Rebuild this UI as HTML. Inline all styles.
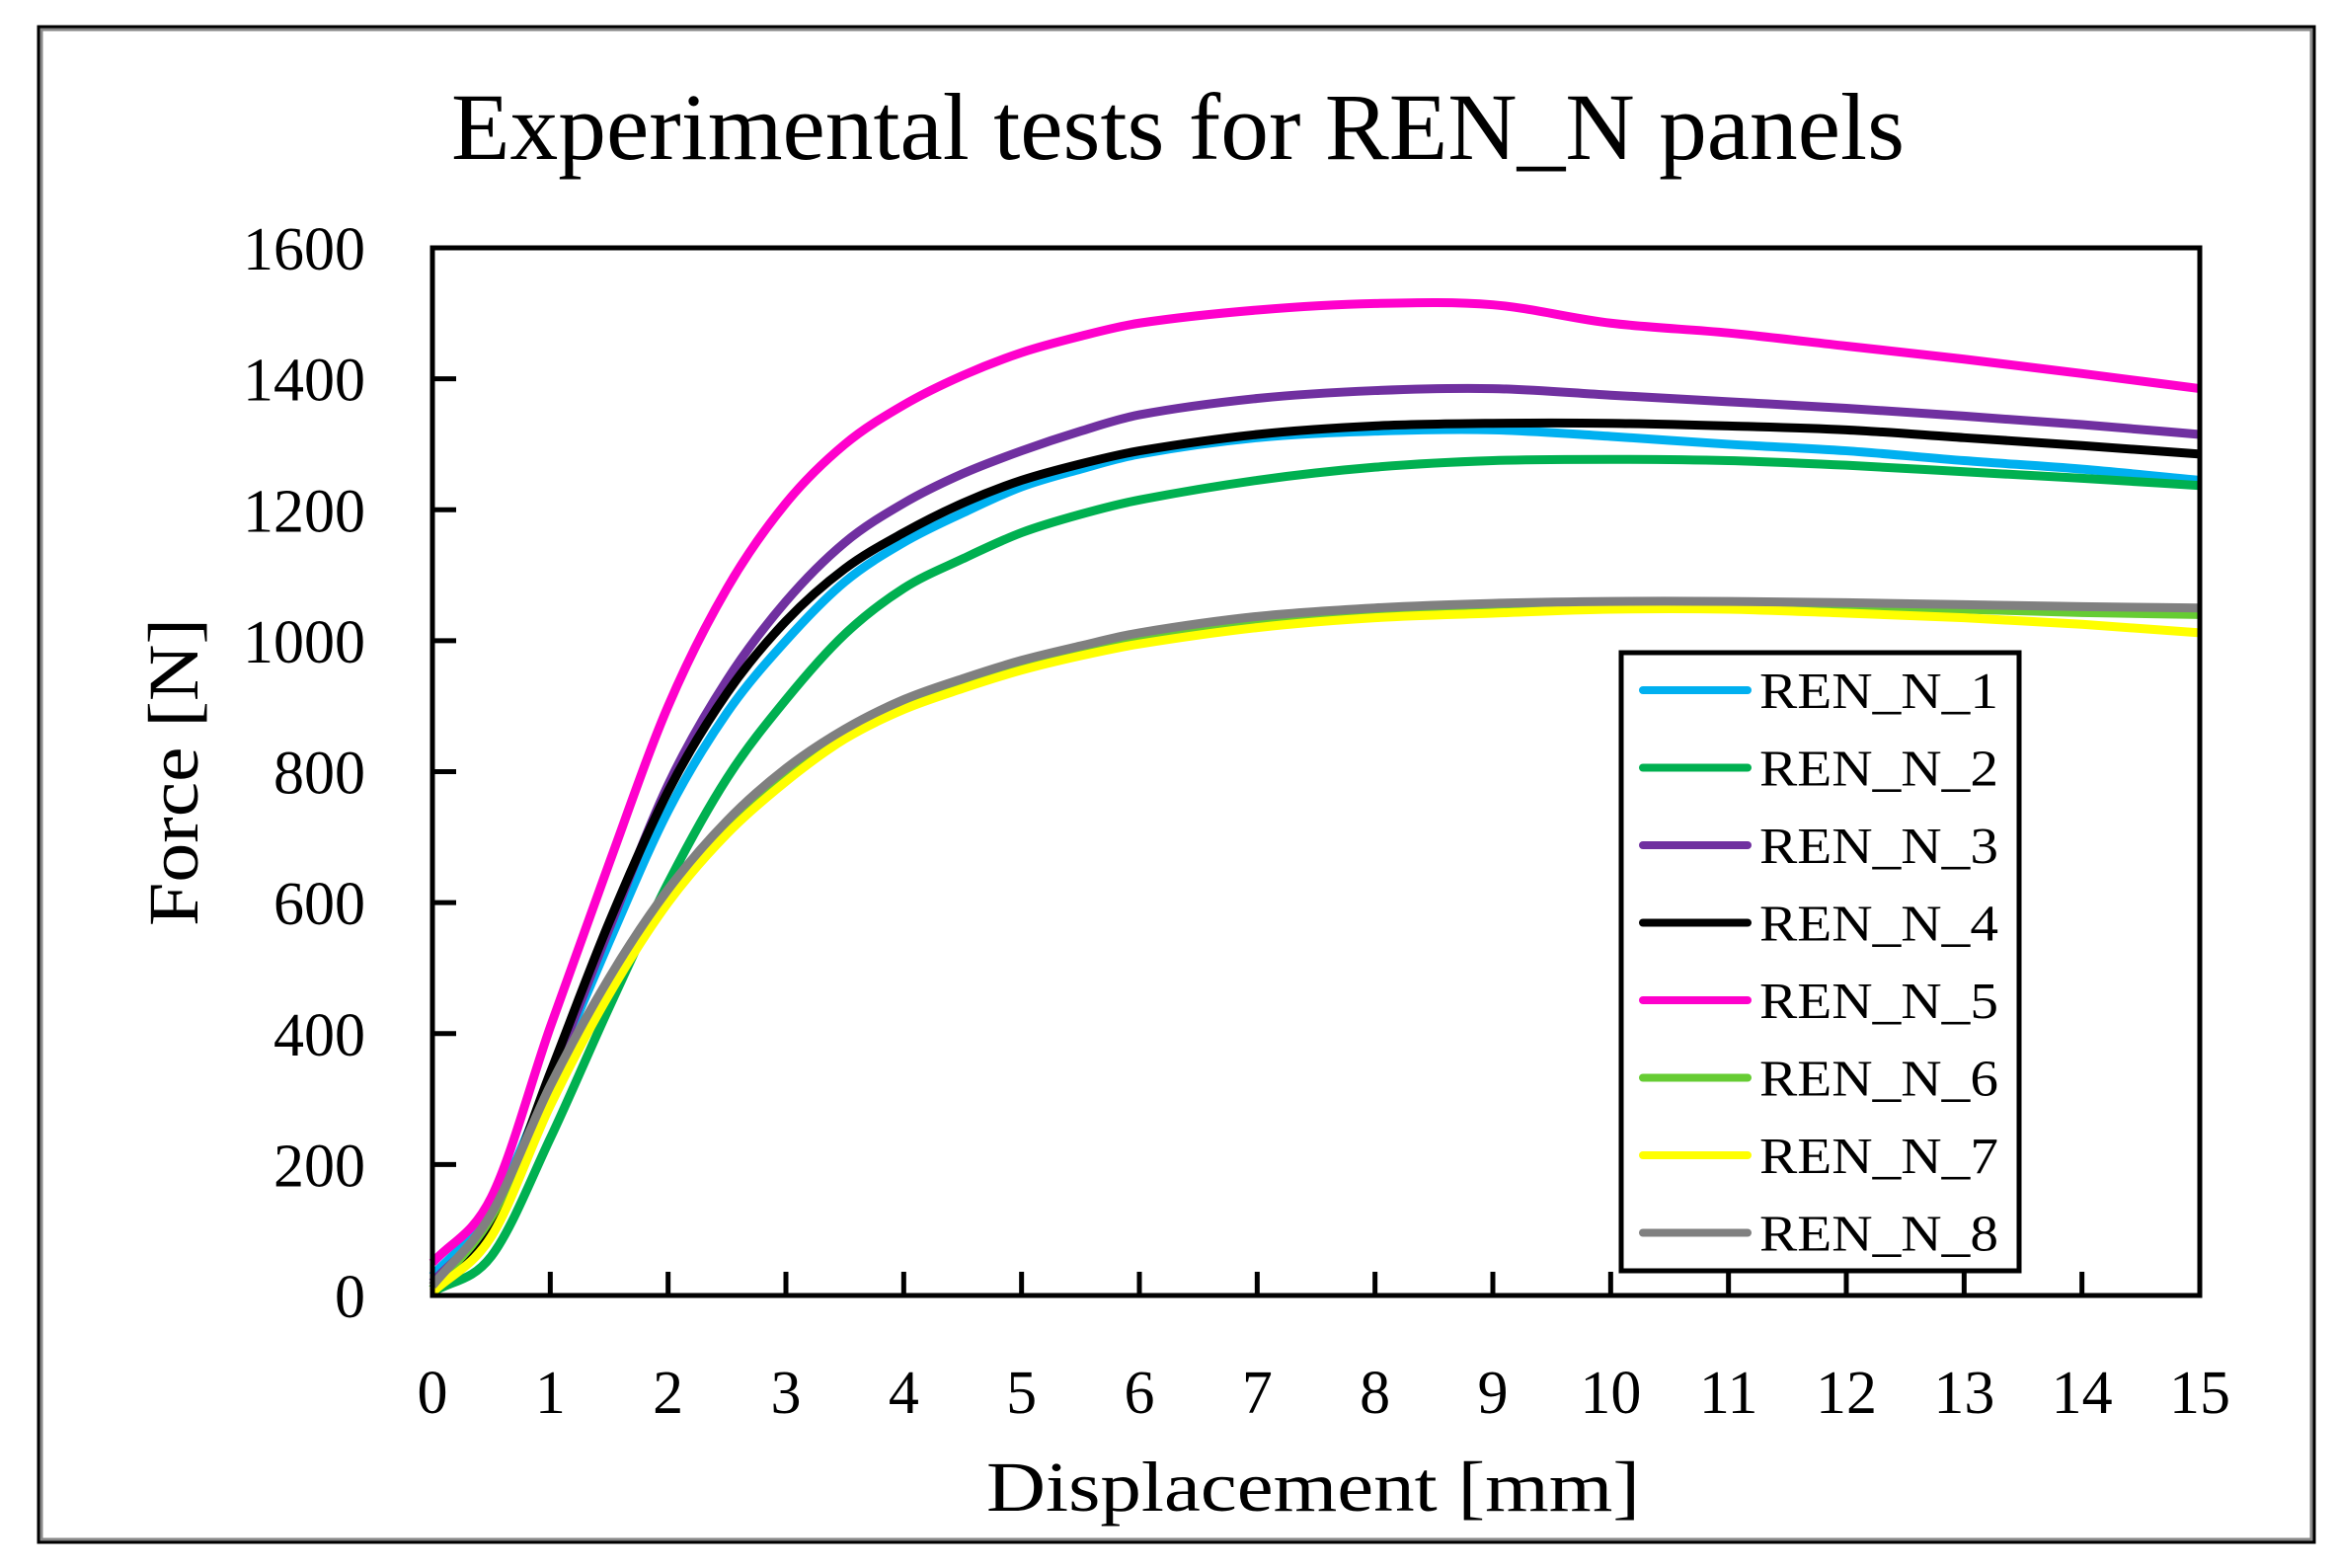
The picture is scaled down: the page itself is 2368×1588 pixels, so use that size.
<!DOCTYPE html>
<html><head><meta charset="utf-8"><style>
html,body{margin:0;padding:0;background:#fff;}
svg{display:block;font-family:"Liberation Serif",serif;}
</style></head><body>
<svg id="chart" width="2368" height="1588" viewBox="0 0 2368 1588">
<rect x="0" y="0" width="2368" height="1588" fill="#fff"/>
<rect x="39" y="27" width="2305" height="1535" fill="none" stroke="#000" stroke-width="3"/>
<rect x="42" y="30" width="2299" height="1529" fill="none" stroke="#888" stroke-width="3"/>
<text x="1193" y="161" font-size="96" text-anchor="middle" textLength="1472" lengthAdjust="spacingAndGlyphs">Experimental tests for REN_N panels</text>
<g id="series"></g>
<rect x="438" y="251" width="1790" height="1061" fill="none" stroke="#000" stroke-width="5"/>
<g id="ticks"></g>
<text x="1330" y="1530" font-size="72" text-anchor="middle" textLength="662" lengthAdjust="spacingAndGlyphs">Displacement [mm]</text>
<text transform="translate(200,782) rotate(-90)" font-size="72" text-anchor="middle" textLength="312" lengthAdjust="spacingAndGlyphs">Force [N]</text>
<g>
<rect x="1642" y="661" width="403" height="626" fill="#fff" stroke="#000" stroke-width="5"/>
<g id="legend-items"></g>
</g>
</svg>
<script>
const xVals = [0,0.5,1,1.5,2,2.5,3,3.5,4,4.5,5,5.5,6,7,8,9,10,11,12,13,14,15];
const seriesNames = ["REN_N_1","REN_N_2","REN_N_3","REN_N_4","REN_N_5","REN_N_6","REN_N_7","REN_N_8"];
const seriesColors = ["#00b0f0","#00b050","#7030a0","#000000","#ff00cc","#66cc33","#ffff00","#808080"];
const s1 = [30,130,330,540,740,890,1000,1090,1150,1195,1235,1262,1285,1310,1320,1322,1312,1300,1290,1275,1262,1245];
const s2 = [5,60,240,440,630,790,910,1010,1080,1125,1165,1193,1215,1245,1265,1275,1277,1275,1268,1258,1248,1237];
const s3 = [20,120,330,560,780,940,1060,1150,1210,1255,1290,1320,1345,1370,1382,1385,1375,1365,1355,1343,1330,1315];
const s4 = [10,110,340,570,770,920,1030,1110,1165,1210,1245,1270,1290,1315,1328,1332,1332,1328,1322,1310,1298,1285];
const s5 = [50,150,410,660,900,1080,1210,1300,1360,1405,1440,1465,1485,1505,1515,1513,1485,1470,1450,1430,1408,1385];
const s6 = [10,120,320,480,620,720,800,860,905,937,965,987,1005,1030,1045,1052,1055,1055,1052,1048,1043,1040];
const s7 = [5,90,290,460,600,705,785,850,895,927,955,977,995,1020,1035,1042,1048,1048,1042,1035,1025,1012];
const s8 = [15,125,320,485,620,725,805,865,910,942,970,992,1012,1037,1050,1057,1060,1060,1058,1055,1052,1050];
const seriesData = [s1,s2,s3,s4,s5,s6,s7,s8];
const xTicks = [0,1,2,3,4,5,6,7,8,9,10,11,12,13,14,15];
const yTicks = [0,200,400,600,800,1000,1200,1400,1600];

const NS="http://www.w3.org/2000/svg";
const L=438,R=2228,T=251,B=1312;
function sx(v){return L+(v-0)/(15-0)*(R-L);}
function sy(v){return B-(v-0)/(1600-0)*(B-T);}
function mk(tag,attrs,parent){const e=document.createElementNS(NS,tag);for(const k in attrs)e.setAttribute(k,attrs[k]);parent.appendChild(e);return e;}
function smoothPath(pts){
  const n=pts.length,m=[];
  for(let i=0;i<n;i++){
    const a=pts[Math.max(0,i-1)],b=pts[Math.min(n-1,i+1)];
    m.push((b[1]-a[1])/(b[0]-a[0]));
  }
  let d="M"+pts[0][0]+","+pts[0][1];
  for(let i=0;i<n-1;i++){
    const p1=pts[i],p2=pts[i+1],dx=(p2[0]-p1[0])/3;
    d+=" C"+(p1[0]+dx)+","+(p1[1]+m[i]*dx)+" "+(p2[0]-dx)+","+(p2[1]-m[i+1]*dx)+" "+p2[0]+","+p2[1];
  }
  return d;
}
const sg=document.getElementById("series");
seriesData.forEach((vals,i)=>{
  const pts=vals.map((v,j)=>[sx(xVals[j]),sy(v)]);
  const p=mk("path",{d:smoothPath(pts),fill:"none",stroke:seriesColors[i],"stroke-width":9,"stroke-linejoin":"round"},sg);
  
  
});
const tg=document.getElementById("ticks");
xTicks.forEach(v=>{
  const l=mk("line",{x1:sx(v),x2:sx(v),y1:B,y2:B-24,stroke:"#000","stroke-width":5},tg);
  
  
  const t=mk("text",{x:sx(v),y:1431,"font-size":62,"text-anchor":"middle"},tg);
  t.textContent=v;
  
  
});
yTicks.forEach(v=>{
  const l=mk("line",{x1:L,x2:L+24,y1:sy(v),y2:sy(v),stroke:"#000","stroke-width":5},tg);
  
  
  const t=mk("text",{x:370,y:sy(v)+22,"font-size":62,"text-anchor":"end"},tg);
  t.textContent=v;
  
  
});
const lg=document.getElementById("legend-items");
seriesNames.forEach((n,i)=>{
  const y=699+78.5*i;
  const l=mk("line",{x1:1664,x2:1770,y1:y,y2:y,stroke:seriesColors[i],"stroke-width":8,"stroke-linecap":"round"},lg);
  
  
  const t=mk("text",{x:1782,y:y+18,"font-size":52,textLength:242,lengthAdjust:"spacingAndGlyphs"},lg);
  t.textContent=n;
  
  
});
</script>
</body></html>
